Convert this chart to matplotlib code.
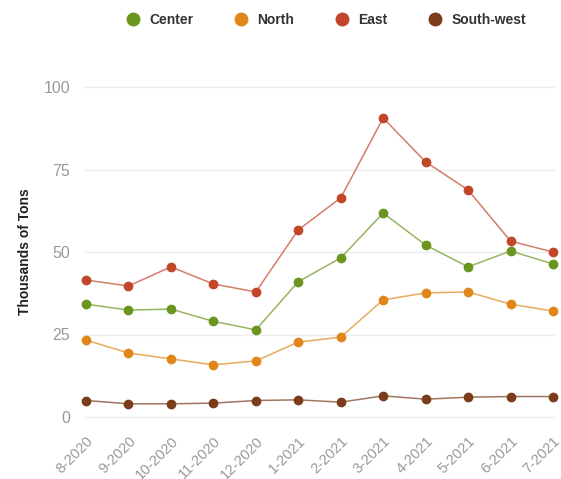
import matplotlib
matplotlib.use('Agg')
import matplotlib.pyplot as plt

plt.rcParams['font.family'] = ['Liberation Sans', 'DejaVu Sans']

months = ['8-2020', '9-2020', '10-2020', '11-2020', '12-2020', '1-2021',
          '2-2021', '3-2021', '4-2021', '5-2021', '6-2021', '7-2021']
center = [34.2, 32.4, 32.7, 29.0, 26.4, 41.0, 48.2, 61.8, 52.1, 45.5, 50.3, 46.4]
north = [23.3, 19.4, 17.6, 15.8, 17.0, 22.7, 24.2, 35.5, 37.6, 37.9, 34.2, 32.1]
east = [41.5, 39.7, 45.5, 40.3, 37.9, 56.7, 66.4, 90.6, 77.3, 68.8, 53.3, 50.0]
southwest = [5.0, 4.0, 4.0, 4.2, 5.0, 5.2, 4.5, 6.4, 5.4, 6.0, 6.2, 6.2]

series = [('Center', center, '#6a961f'),
          ('North', north, '#e0861a'),
          ('East', east, '#c2462a'),
          ('South-west', southwest, '#7a3c1a')]

fig = plt.figure(figsize=(5.61, 4.79), dpi=100)
ax = fig.add_axes([83.9/561, (479-426.9)/479, (555.1-83.9)/561, 349.8/479])

x = list(range(len(months)))
for name, vals, col in series:
    ax.plot(x, vals, color=col, lw=1.1, alpha=0.7, zorder=2)
    ax.plot(x, vals, ls='none', marker='o', ms=6, color=col, label=name,
            clip_on=False, zorder=3)

ax.set_xlim(-0.05, 11.05)
ax.set_ylim(-3, 103)
ax.set_yticks([0, 25, 50, 75, 100])
ax.set_xticks(x)
ax.set_xticklabels(months, rotation=45, ha='right', rotation_mode='anchor')
ax.tick_params(axis='both', length=0, colors='#999999')
ax.tick_params(axis='y', labelsize=11.5, pad=10)
ax.tick_params(axis='x', labelsize=10.5, pad=5)
for s in ax.spines.values():
    s.set_visible(False)
ax.grid(axis='y', color='#eeeeee', lw=1)
ax.set_axisbelow(True)
ax.set_ylabel('Thousands of Tons', fontsize=10, fontweight='bold', color='#222222', labelpad=8)

fig.legend(loc='upper center', bbox_to_anchor=(0.575, 1.0), ncol=4, frameon=False,
           prop={'weight': 'bold', 'size': 10}, handletextpad=0.2, columnspacing=2.4,
           labelcolor='#333333', markerscale=1.5)

plt.savefig('out.png', dpi=100)
